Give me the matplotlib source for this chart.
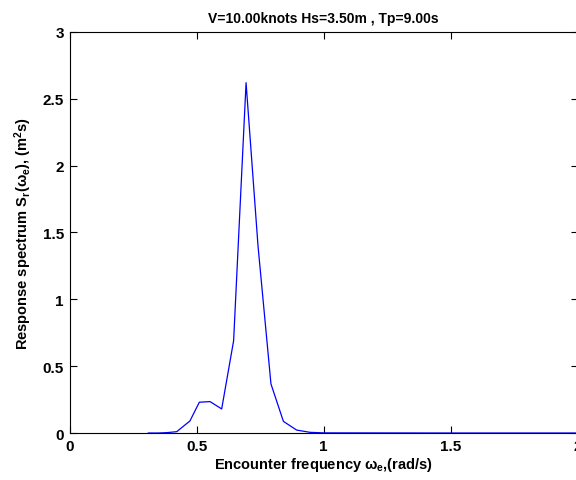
import matplotlib
matplotlib.use("Agg")
import matplotlib.pyplot as plt

plt.rcParams['font.family'] = ['Liberation Sans', 'DejaVu Sans']
plt.rcParams['font.weight'] = 'bold'
plt.rcParams['axes.labelweight'] = 'bold'
plt.rcParams['mathtext.fontset'] = 'custom'
plt.rcParams['mathtext.rm'] = 'Liberation Sans:bold'
plt.rcParams['mathtext.it'] = 'Liberation Sans:bold'
plt.rcParams['mathtext.bf'] = 'Liberation Sans:bold'

# encounter frequency (rad/s) and response spectrum (m^2 s)
we = [0.31, 0.35, 0.385, 0.422, 0.474, 0.511, 0.553, 0.599, 0.646, 0.695,
      0.742, 0.793, 0.842, 0.894, 0.947, 1.0, 1.5, 2.0]
Sr = [0.0, 0.0, 0.003, 0.01, 0.09, 0.23, 0.235, 0.18, 0.69, 2.62,
      1.40, 0.367, 0.087, 0.022, 0.005, 0.001, 0.0, 0.0]

title = "V=10.00knots Hs=3.50m , Tp=9.00s"
xticks = [0, 0.5, 1, 1.5, 2]
yticks = [0, 0.5, 1, 1.5, 2, 2.5, 3]

fig = plt.figure(figsize=(5.76, 4.81), dpi=100)
ax = fig.add_axes([0.1207, 0.0977, 0.882, 0.834])
ax.plot(we, Sr, color=(0, 0, 1), lw=0.9)
ax.set_xlim(0, 2)
ax.set_ylim(0, 3)
ax.set_xticks(xticks)
ax.set_yticks(yticks)
ax.set_xticklabels(["0", "0.5", "1", "1.5", "2"])
ax.set_yticklabels(["0", "0.5", "1", "1.5", "2", "2.5", "3"])
ax.tick_params(direction='in', top=True, right=True, length=5, width=0.8,
               labelsize=11, pad=4)
for s in ax.spines.values():
    s.set_linewidth(0.8)
ax.set_title(title, fontsize=10, fontweight='bold', pad=7)
ax.set_xlabel(r"Encounter frequency $\omega_e$,(rad/s)", fontsize=10.5, labelpad=2)
ax.set_ylabel(r"Response spectrum S$_r$($\omega_e$), (m$^2$s)", fontsize=10.5, labelpad=6)

fig.savefig("out.png", dpi=100)
